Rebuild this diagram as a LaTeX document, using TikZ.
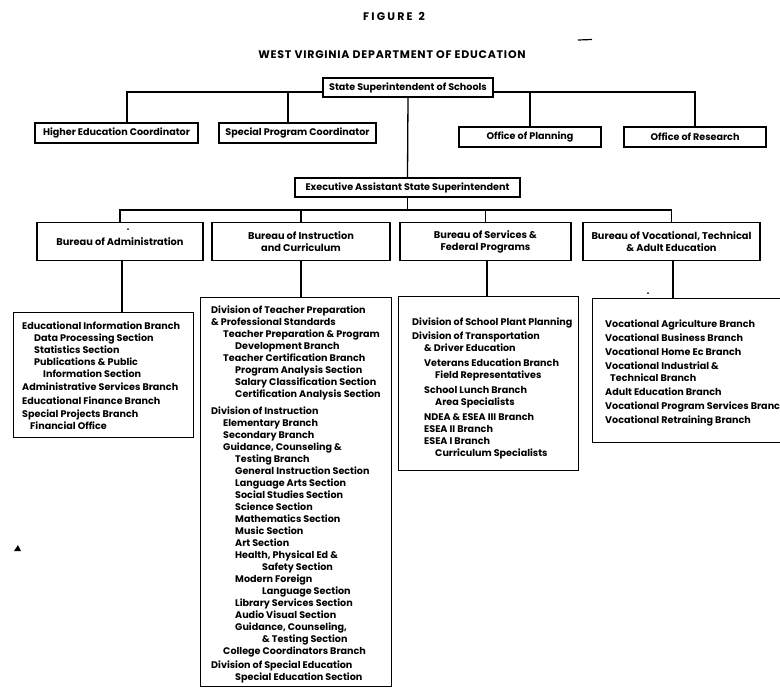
\documentclass[tikz,border=0pt]{standalone}
\usepackage{fontspec}
\setmainfont{Poppins}
\newcommand\orgtitle{\bfseries\fontsize{11}{13}\selectfont}
\newcommand\orglabel{\bfseries\fontsize{9.6}{11}\selectfont}
\newcommand\orgbureau{\bfseries\fontsize{9.8}{12}\selectfont}
\newcommand\orglist{\bfseries\fontsize{9.6}{12}\selectfont}
\newcommand\firstline{\rule{0pt}{9.5pt}}
\begin{document}
\begin{tikzpicture}[x=1pt,y=-1pt,
  orgbox/.style={draw, line width=1.3pt, inner sep=0pt, align=center, font=\orglabel},
  bureaubox/.style={orgbox, font=\orgbureau, minimum height=38},
  listbox/.style={draw, line width=1.3pt, inner sep=0pt, anchor=north west},
  listtext/.style={anchor=north west, inner sep=0pt, align=left, font=\orglist},
  link/.style={line width=1.3pt}]
\useasboundingbox (0,0) rectangle (780,689);
\fill[white] (0,0) rectangle (780,689);
\clip (0,0) rectangle (780,689);

% headings
\node[font=\orgtitle] (figno) at (394,16) {\addfontfeature{LetterSpace=20}FIGURE\hspace{6pt}2};
\node[font=\orgtitle] (dept) at (392,55) {\addfontfeature{LetterSpace=7}WEST VIRGINIA DEPARTMENT OF EDUCATION};
\draw[line width=1.2pt] (578,40) -- (592,39.5);

% top level
\node[orgbox, minimum width=170, minimum height=19] (state) at (408,87.5) {State Superintendent of Schools};
\node[orgbox, minimum width=163, minimum height=20] (higher) at (116.5,133) {Higher Education Coordinator};
\node[orgbox, minimum width=157, minimum height=20] (special) at (297.5,133) {Special Program Coordinator};
\node[orgbox, minimum width=142, minimum height=20] (planning) at (530,137) {Office of Planning};
\node[orgbox, minimum width=142, minimum height=20] (research) at (695,137) {Office of Research};
\node[orgbox, minimum width=225, minimum height=19] (exec) at (407.5,187.5) {Executive Assistant State Superintendent};

% bureaus
\node[bureaubox, minimum width=166] (badmin) at (120,241.5) {Bureau of Administration};
\node[bureaubox, minimum width=178] (binst) at (301,241.5) {Bureau of Instruction\\and Curriculum};
\node[bureaubox, minimum width=171] (bserv) at (485.5,241.5) {Bureau of Services \&\\Federal Programs};
\node[bureaubox, minimum width=177] (bvoc) at (671.5,241.5) {Bureau of Vocational, Technical\\\& Adult Education};

% bus levels
\coordinate (topbus) at (0,92);
\coordinate (bureaubus) at (0,210);

% connectors, upper part
\draw[link] ([xshift=10.5pt]higher.north) |- (state.west |- topbus);
\draw[link] ([xshift=-9.5pt]special.north) -- ([xshift=-9.5pt]special.north |- topbus);
\draw[link] (state.east |- topbus) -| (research.north);
\draw[link] (planning.north) -- (planning.north |- topbus);
\draw[link] (state.south) -- (exec.north);
\draw[link] (exec.south) -- (exec.south |- bureaubus);
\draw[link] (badmin.north) |- (bvoc.north |- bureaubus) -- (bvoc.north);
\draw[link] (binst.north) -- (binst.north |- bureaubus);
\draw[link] (bserv.north) -- (bserv.north |- bureaubus);

% lists under the bureaus
\node[listbox, minimum width=180, minimum height=125] (ladmin) at (13,312) {};
\node[listbox, minimum width=191, minimum height=389] (linst) at (200,297) {};
\node[listbox, minimum width=180, minimum height=174] (lserv) at (398,296) {};
\node[listbox, minimum width=210, minimum height=144] (lvoc) at (592,298) {};

\draw[link] ([xshift=2pt]badmin.south) -- ([xshift=2pt]badmin.south |- ladmin.north);
\draw[link] (binst.south) -- (binst.south |- linst.north);
\draw[link] ([xshift=1.5pt]bserv.south) -- ([xshift=1.5pt]bserv.south |- lserv.north);
\draw[link] ([xshift=1.5pt]bvoc.south) -- ([xshift=1.5pt]bvoc.south |- lvoc.north);

\node[listtext] (tadmin) at (22,319.5) {\firstline Educational Information Branch\\
\hspace*{12pt}Data Processing Section\\
\hspace*{12pt}Statistics Section\\
\hspace*{12pt}Publications \& Public\\
\hspace*{21pt}Information Section\\[1.5pt]
Administrative Services Branch\\[1.5pt]
Educational Finance Branch\\[1.5pt]
Special Projects Branch\\
\hspace*{8pt}Financial Office};

\node[listtext] (tinst) at (211,303.5) {\firstline Division of Teacher Preparation\\
\& Professional Standards\\
\hspace*{12pt}Teacher Preparation \& Program\\
\hspace*{24pt}Development Branch\\
\hspace*{12pt}Teacher Certification Branch\\
\hspace*{24pt}Program Analysis Section\\
\hspace*{24pt}Salary Classification Section\\
\hspace*{24pt}Certification Analysis Section\\[5pt]
Division of Instruction\\
\hspace*{12pt}Elementary Branch\\
\hspace*{12pt}Secondary Branch\\
\hspace*{12pt}Guidance, Counseling \&\\
\hspace*{24pt}Testing Branch\\
\hspace*{24pt}General Instruction Section\\
\hspace*{24pt}Language Arts Section\\
\hspace*{24pt}Social Studies Section\\
\hspace*{24pt}Science Section\\
\hspace*{24pt}Mathematics Section\\
\hspace*{24pt}Music Section\\
\hspace*{24pt}Art Section\\
\hspace*{24pt}Health, Physical Ed \&\\
\hspace*{51pt}Safety Section\\
\hspace*{24pt}Modern Foreign\\
\hspace*{51pt}Language Section\\
\hspace*{24pt}Library Services Section\\
\hspace*{24pt}Audio Visual Section\\
\hspace*{24pt}Guidance, Counseling,\\
\hspace*{51pt}\& Testing Section\\
\hspace*{12pt}College Coordinators Branch\\[2pt]
Division of Special Education\\
\hspace*{24pt}Special Education Section};

\node[listtext] (tserv) at (412,315.5) {\firstline Division of School Plant Planning\\[2pt]
Division of Transportation\\
\hspace*{12pt}\& Driver Education\\[3pt]
\hspace*{12pt}Veterans Education Branch\\
\hspace*{23pt}Field Representatives\\[3pt]
\hspace*{12pt}School Lunch Branch\\
\hspace*{23pt}Area Specialists\\[3pt]
\hspace*{12pt}NDEA \& ESEA III Branch\\
\hspace*{12pt}ESEA II Branch\\
\hspace*{12pt}ESEA I Branch\\
\hspace*{23pt}Curriculum Specialists};

\node[listtext] (tvoc) at (605,317.5) {\firstline Vocational Agriculture Branch\\[2pt]
Vocational Business Branch\\[2pt]
Vocational Home Ec Branch\\[2pt]
Vocational Industrial \&\\
\hspace*{5pt}Technical Branch\\[2pt]
Adult Education Branch\\[2pt]
Vocational Program Services Branch\\[2pt]
Vocational Retraining Branch};

% stray marks
\fill (128,229) circle (1);
\fill (648,293) circle (1);
\fill (14,551) -- (18,545) -- (21,551) -- cycle;
\end{tikzpicture}
\end{document}
